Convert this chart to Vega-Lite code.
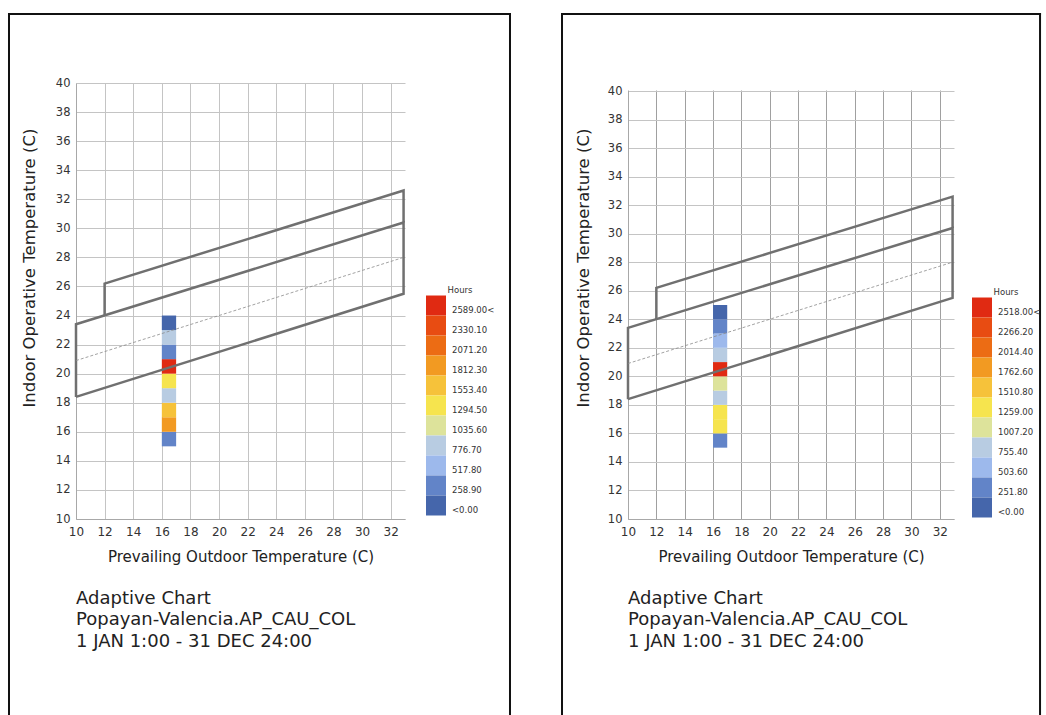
{
  "$schema": "https://vega.github.io/schema/vega-lite/v6.json",
  "padding": {"left": 7, "top": 12, "right": 0, "bottom": 0},
  "background": "white",
  "spacing": 48,
  "config": {
    "font": "DejaVu Sans",
    "view": {"stroke": null},
    "axis": {
      "domainColor": "#a8a8a8",
      "gridColor": "#c4c4c4",
      "ticks": false,
      "labelFontSize": 11.5,
      "labelColor": "#333333",
      "labelPadding": 6,
      "labelOverlap": false,
      "labelFlush": false,
      "titleFontSize": 15,
      "titleFontWeight": "normal",
      "titleColor": "#222222"
    }
  },
  "resolve": {
    "scale": {"x": "independent", "y": "independent", "color": "independent"},
    "legend": {"color": "independent"}
  },
  "datasets": {
    "cellsL": [
      {"out_lo": 16, "out_hi": 17, "in_lo": 15, "in_hi": 16, "bin": "258.90"},
      {"out_lo": 16, "out_hi": 17, "in_lo": 16, "in_hi": 17, "bin": "1812.30"},
      {"out_lo": 16, "out_hi": 17, "in_lo": 17, "in_hi": 18, "bin": "1553.40"},
      {"out_lo": 16, "out_hi": 17, "in_lo": 18, "in_hi": 19, "bin": "776.70"},
      {"out_lo": 16, "out_hi": 17, "in_lo": 19, "in_hi": 20, "bin": "1294.50"},
      {"out_lo": 16, "out_hi": 17, "in_lo": 20, "in_hi": 21, "bin": "2589.00<"},
      {"out_lo": 16, "out_hi": 17, "in_lo": 21, "in_hi": 22, "bin": "258.90"},
      {"out_lo": 16, "out_hi": 17, "in_lo": 22, "in_hi": 23, "bin": "776.70"},
      {"out_lo": 16, "out_hi": 17, "in_lo": 23, "in_hi": 24, "bin": "<0.00"}
    ],
    "cellsR": [
      {"out_lo": 16, "out_hi": 17, "in_lo": 15, "in_hi": 16, "bin": "251.80"},
      {"out_lo": 16, "out_hi": 17, "in_lo": 16, "in_hi": 17, "bin": "1259.00"},
      {"out_lo": 16, "out_hi": 17, "in_lo": 17, "in_hi": 18, "bin": "1259.00"},
      {"out_lo": 16, "out_hi": 17, "in_lo": 18, "in_hi": 19, "bin": "755.40"},
      {"out_lo": 16, "out_hi": 17, "in_lo": 19, "in_hi": 20, "bin": "1007.20"},
      {"out_lo": 16, "out_hi": 17, "in_lo": 20, "in_hi": 21, "bin": "2518.00<"},
      {"out_lo": 16, "out_hi": 17, "in_lo": 21, "in_hi": 22, "bin": "755.40"},
      {"out_lo": 16, "out_hi": 17, "in_lo": 22, "in_hi": 23, "bin": "503.60"},
      {"out_lo": 16, "out_hi": 17, "in_lo": 23, "in_hi": 24, "bin": "251.80"},
      {"out_lo": 16, "out_hi": 17, "in_lo": 24, "in_hi": 25, "bin": "<0.00"}
    ],
    "zones": [
      {"zone": "A", "seq": 1, "t_out": 10, "t_in": 18.4},
      {"zone": "A", "seq": 2, "t_out": 32.9, "t_in": 25.5},
      {"zone": "A", "seq": 3, "t_out": 32.9, "t_in": 30.4},
      {"zone": "A", "seq": 4, "t_out": 10, "t_in": 23.4},
      {"zone": "A", "seq": 5, "t_out": 10, "t_in": 18.4},
      {"zone": "B", "seq": 1, "t_out": 12, "t_in": 24.0},
      {"zone": "B", "seq": 2, "t_out": 12, "t_in": 26.2},
      {"zone": "B", "seq": 3, "t_out": 32.9, "t_in": 32.6},
      {"zone": "B", "seq": 4, "t_out": 32.9, "t_in": 30.4}
    ],
    "neutral": [
      {"t_out": 10, "t_in": 20.9},
      {"t_out": 32.9, "t_in": 28.0}
    ]
  },
  "hconcat": [
    {
      "width": 329,
      "height": 436,
      "layer": [
        {
          "data": {"name": "cellsL"},
          "mark": {"type": "rect"},
          "encoding": {
            "x": {"field": "out_lo", "type": "quantitative", "title": "Prevailing Outdoor Temperature (C)",
              "scale": {"domain": [10, 33], "nice": false, "zero": false},
              "axis": {"values": [10, 12, 14, 16, 18, 20, 22, 24, 26, 28, 30, 32], "titlePadding": 12, "labelPadding": 7, "labelFontSize": 12}},
            "x2": {"field": "out_hi"},
            "y": {"field": "in_lo", "type": "quantitative", "title": "Indoor Operative Temperature (C)",
              "scale": {"domain": [10, 40], "nice": false, "zero": false},
              "axis": {"values": [10, 12, 14, 16, 18, 20, 22, 24, 26, 28, 30, 32, 34, 36, 38, 40], "titleX": -47, "titleY": 324, "titleAlign": "left", "titleBaseline": "middle", "titleAngle": 270, "titleFontSize": 16.5}},
            "y2": {"field": "in_hi"},
            "color": {"field": "bin", "type": "nominal",
              "scale": {
                "domain": ["2589.00<", "2330.10", "2071.20", "1812.30", "1553.40", "1294.50", "1035.60", "776.70", "517.80", "258.90", "<0.00"],
                "range": ["#e02a12", "#e84c12", "#ec6c14", "#f29a22", "#f6c23a", "#f6e44e", "#dde39b", "#b8cce2", "#9db9ec", "#6284c8", "#4566ab"]
              },
              "legend": {"title": "Hours", "orient": "none", "legendX": 350, "legendY": 203, "symbolType": "square", "symbolSize": 400, "symbolStrokeWidth": 0, "rowPadding": 0, "labelFontSize": 8.5, "labelOffset": 6, "labelBaseline": "top", "labelColor": "#333333", "titleFontSize": 8.5, "titleFontWeight": "normal", "titleColor": "#333333", "titlePadding": 1, "titleAnchor": "middle", "padding": 0}
            }
          }
        },
        {
          "data": {"name": "zones"},
          "mark": {"type": "line", "color": "#707070", "strokeWidth": 2.5},
          "encoding": {
            "x": {"field": "t_out", "type": "quantitative", "title": "Prevailing Outdoor Temperature (C)",
              "axis": {"values": [10, 12, 14, 16, 18, 20, 22, 24, 26, 28, 30, 32], "titlePadding": 12, "labelPadding": 7, "labelFontSize": 12}},
            "y": {"field": "t_in", "type": "quantitative", "title": "Indoor Operative Temperature (C)",
              "axis": {"values": [10, 12, 14, 16, 18, 20, 22, 24, 26, 28, 30, 32, 34, 36, 38, 40], "titleX": -47, "titleY": 324, "titleAlign": "left", "titleBaseline": "middle", "titleAngle": 270, "titleFontSize": 16.5}},
            "detail": {"field": "zone"},
            "order": {"field": "seq", "type": "quantitative"}
          }
        },
        {
          "data": {"name": "neutral"},
          "mark": {"type": "line", "color": "#8a8a8a", "strokeWidth": 0.8, "strokeDash": [3, 2]},
          "encoding": {
            "x": {"field": "t_out", "type": "quantitative", "title": "Prevailing Outdoor Temperature (C)",
              "axis": {"values": [10, 12, 14, 16, 18, 20, 22, 24, 26, 28, 30, 32], "titlePadding": 12, "labelPadding": 7, "labelFontSize": 12}},
            "y": {"field": "t_in", "type": "quantitative", "title": "Indoor Operative Temperature (C)",
              "axis": {"values": [10, 12, 14, 16, 18, 20, 22, 24, 26, 28, 30, 32, 34, 36, 38, 40], "titleX": -47, "titleY": 324, "titleAlign": "left", "titleBaseline": "middle", "titleAngle": 270, "titleFontSize": 16.5}}
          }
        },
        {
          "data": {"values": [{}]},
          "mark": {"type": "rule", "color": "#111111", "strokeWidth": 2, "strokeCap": "square"},
          "encoding": {
            "x": {"datum": 5.316, "type": "quantitative", "title": "Prevailing Outdoor Temperature (C)",
              "axis": {"values": [10, 12, 14, 16, 18, 20, 22, 24, 26, 28, 30, 32], "titlePadding": 12, "labelPadding": 7, "labelFontSize": 12}},
            "y": {"datum": -3.5, "type": "quantitative", "title": "Indoor Operative Temperature (C)",
              "axis": {"values": [10, 12, 14, 16, 18, 20, 22, 24, 26, 28, 30, 32, 34, 36, 38, 40], "titleX": -47, "titleY": 324, "titleAlign": "left", "titleBaseline": "middle", "titleAngle": 270, "titleFontSize": 16.5}},
            "y2": {"datum": 44.748}
          }
        },
        {
          "data": {"values": [{}]},
          "mark": {"type": "rule", "color": "#111111", "strokeWidth": 2, "strokeCap": "square"},
          "encoding": {
            "x": {"datum": 40.34, "type": "quantitative", "title": "Prevailing Outdoor Temperature (C)",
              "axis": {"values": [10, 12, 14, 16, 18, 20, 22, 24, 26, 28, 30, 32], "titlePadding": 12, "labelPadding": 7, "labelFontSize": 12}},
            "y": {"datum": -3.5, "type": "quantitative", "title": "Indoor Operative Temperature (C)",
              "axis": {"values": [10, 12, 14, 16, 18, 20, 22, 24, 26, 28, 30, 32, 34, 36, 38, 40], "titleX": -47, "titleY": 324, "titleAlign": "left", "titleBaseline": "middle", "titleAngle": 270, "titleFontSize": 16.5}},
            "y2": {"datum": 44.748}
          }
        },
        {
          "data": {"values": [{}]},
          "mark": {"type": "rule", "color": "#111111", "strokeWidth": 2, "strokeCap": "square"},
          "encoding": {
            "x": {"datum": 5.316, "type": "quantitative", "title": "Prevailing Outdoor Temperature (C)",
              "axis": {"values": [10, 12, 14, 16, 18, 20, 22, 24, 26, 28, 30, 32], "titlePadding": 12, "labelPadding": 7, "labelFontSize": 12}},
            "x2": {"datum": 40.34},
            "y": {"datum": 44.748, "type": "quantitative", "title": "Indoor Operative Temperature (C)",
              "axis": {"values": [10, 12, 14, 16, 18, 20, 22, 24, 26, 28, 30, 32, 34, 36, 38, 40], "titleX": -47, "titleY": 324, "titleAlign": "left", "titleBaseline": "middle", "titleAngle": 270, "titleFontSize": 16.5}}
          }
        },
        {
          "data": {"values": [{}]},
          "mark": {"type": "text", "text": ["Adaptive Chart", "Popayan-Valencia.AP_CAU_COL", "1 JAN 1:00 - 31 DEC 24:00"], "align": "left", "baseline": "top", "fontSize": 18, "lineHeight": 21.7, "color": "#222222"},
          "encoding": {
            "x": {"datum": 10, "type": "quantitative", "title": "Prevailing Outdoor Temperature (C)",
              "axis": {"values": [10, 12, 14, 16, 18, 20, 22, 24, 26, 28, 30, 32], "titlePadding": 12, "labelPadding": 7, "labelFontSize": 12}},
            "y": {"datum": 5.128, "type": "quantitative", "title": "Indoor Operative Temperature (C)",
              "axis": {"values": [10, 12, 14, 16, 18, 20, 22, 24, 26, 28, 30, 32, 34, 36, 38, 40], "titleX": -47, "titleY": 324, "titleAlign": "left", "titleBaseline": "middle", "titleAngle": 270, "titleFontSize": 16.5}}
          }
        }
      ]
    },
    {
      "width": 326,
      "height": 436,
      "layer": [
        {
          "data": {"name": "cellsR"},
          "mark": {"type": "rect"},
          "encoding": {
            "x": {"field": "out_lo", "type": "quantitative", "title": "Prevailing Outdoor Temperature (C)",
              "scale": {"domain": [10, 33], "nice": false, "zero": false},
              "axis": {"values": [10, 12, 14, 16, 18, 20, 22, 24, 26, 28, 30, 32], "titlePadding": 12, "labelPadding": 7, "labelFontSize": 12, "gridColor": "#a0a0a0"}},
            "x2": {"field": "out_hi"},
            "y": {"field": "in_lo", "type": "quantitative", "title": "Indoor Operative Temperature (C)",
              "scale": {"domain": [10, 40.561], "nice": false, "zero": false},
              "axis": {"values": [10, 12, 14, 16, 18, 20, 22, 24, 26, 28, 30, 32, 34, 36, 38, 40], "titleX": -45, "titleY": 324, "titleAlign": "left", "titleBaseline": "middle", "titleAngle": 270, "titleFontSize": 16.5}},
            "y2": {"field": "in_hi"},
            "color": {"field": "bin", "type": "nominal",
              "scale": {
                "domain": ["2518.00<", "2266.20", "2014.40", "1762.60", "1510.80", "1259.00", "1007.20", "755.40", "503.60", "251.80", "<0.00"],
                "range": ["#e02a12", "#e84c12", "#ec6c14", "#f29a22", "#f6c23a", "#f6e44e", "#dde39b", "#b8cce2", "#9db9ec", "#6284c8", "#4566ab"]
              },
              "legend": {"title": "Hours", "orient": "none", "legendX": 344, "legendY": 205, "symbolType": "square", "symbolSize": 400, "symbolStrokeWidth": 0, "rowPadding": 0, "labelFontSize": 8.5, "labelOffset": 6, "labelBaseline": "top", "labelColor": "#333333", "titleFontSize": 8.5, "titleFontWeight": "normal", "titleColor": "#333333", "titlePadding": 1, "titleAnchor": "middle", "padding": 0}
            }
          }
        },
        {
          "data": {"name": "zones"},
          "mark": {"type": "line", "color": "#707070", "strokeWidth": 2.5},
          "encoding": {
            "x": {"field": "t_out", "type": "quantitative", "title": "Prevailing Outdoor Temperature (C)",
              "axis": {"values": [10, 12, 14, 16, 18, 20, 22, 24, 26, 28, 30, 32], "titlePadding": 12, "labelPadding": 7, "labelFontSize": 12, "gridColor": "#a0a0a0"}},
            "y": {"field": "t_in", "type": "quantitative", "title": "Indoor Operative Temperature (C)",
              "axis": {"values": [10, 12, 14, 16, 18, 20, 22, 24, 26, 28, 30, 32, 34, 36, 38, 40], "titleX": -45, "titleY": 324, "titleAlign": "left", "titleBaseline": "middle", "titleAngle": 270, "titleFontSize": 16.5}},
            "detail": {"field": "zone"},
            "order": {"field": "seq", "type": "quantitative"}
          }
        },
        {
          "data": {"name": "neutral"},
          "mark": {"type": "line", "color": "#8a8a8a", "strokeWidth": 0.8, "strokeDash": [3, 2]},
          "encoding": {
            "x": {"field": "t_out", "type": "quantitative", "title": "Prevailing Outdoor Temperature (C)",
              "axis": {"values": [10, 12, 14, 16, 18, 20, 22, 24, 26, 28, 30, 32], "titlePadding": 12, "labelPadding": 7, "labelFontSize": 12, "gridColor": "#a0a0a0"}},
            "y": {"field": "t_in", "type": "quantitative", "title": "Indoor Operative Temperature (C)",
              "axis": {"values": [10, 12, 14, 16, 18, 20, 22, 24, 26, 28, 30, 32, 34, 36, 38, 40], "titleX": -45, "titleY": 324, "titleAlign": "left", "titleBaseline": "middle", "titleAngle": 270, "titleFontSize": 16.5}}
          }
        },
        {
          "data": {"values": [{}]},
          "mark": {"type": "rect", "color": "white", "opacity": 1},
          "encoding": {
            "x": {"datum": 9.92, "type": "quantitative", "title": "Prevailing Outdoor Temperature (C)",
              "axis": {"values": [10, 12, 14, 16, 18, 20, 22, 24, 26, 28, 30, 32], "titlePadding": 12, "labelPadding": 7, "labelFontSize": 12, "gridColor": "#a0a0a0"}},
            "x2": {"datum": 33.1},
            "y": {"datum": 40.04, "type": "quantitative", "title": "Indoor Operative Temperature (C)",
              "axis": {"values": [10, 12, 14, 16, 18, 20, 22, 24, 26, 28, 30, 32, 34, 36, 38, 40], "titleX": -45, "titleY": 324, "titleAlign": "left", "titleBaseline": "middle", "titleAngle": 270, "titleFontSize": 16.5}},
            "y2": {"datum": 40.65}
          }
        },
        {
          "data": {"values": [{}]},
          "mark": {"type": "rule", "color": "#111111", "strokeWidth": 2, "strokeCap": "square"},
          "encoding": {
            "x": {"datum": 5.344, "type": "quantitative", "title": "Prevailing Outdoor Temperature (C)",
              "axis": {"values": [10, 12, 14, 16, 18, 20, 22, 24, 26, 28, 30, 32], "titlePadding": 12, "labelPadding": 7, "labelFontSize": 12, "gridColor": "#a0a0a0"}},
            "y": {"datum": -3.75, "type": "quantitative", "title": "Indoor Operative Temperature (C)",
              "axis": {"values": [10, 12, 14, 16, 18, 20, 22, 24, 26, 28, 30, 32, 34, 36, 38, 40], "titleX": -45, "titleY": 324, "titleAlign": "left", "titleBaseline": "middle", "titleAngle": 270, "titleFontSize": 16.5}},
            "y2": {"datum": 45.40}
          }
        },
        {
          "data": {"values": [{}]},
          "mark": {"type": "rule", "color": "#111111", "strokeWidth": 2, "strokeCap": "square"},
          "encoding": {
            "x": {"datum": 39.07, "type": "quantitative", "title": "Prevailing Outdoor Temperature (C)",
              "axis": {"values": [10, 12, 14, 16, 18, 20, 22, 24, 26, 28, 30, 32], "titlePadding": 12, "labelPadding": 7, "labelFontSize": 12, "gridColor": "#a0a0a0"}},
            "y": {"datum": -3.75, "type": "quantitative", "title": "Indoor Operative Temperature (C)",
              "axis": {"values": [10, 12, 14, 16, 18, 20, 22, 24, 26, 28, 30, 32, 34, 36, 38, 40], "titleX": -45, "titleY": 324, "titleAlign": "left", "titleBaseline": "middle", "titleAngle": 270, "titleFontSize": 16.5}},
            "y2": {"datum": 45.40}
          }
        },
        {
          "data": {"values": [{}]},
          "mark": {"type": "rule", "color": "#111111", "strokeWidth": 2, "strokeCap": "square"},
          "encoding": {
            "x": {"datum": 5.344, "type": "quantitative", "title": "Prevailing Outdoor Temperature (C)",
              "axis": {"values": [10, 12, 14, 16, 18, 20, 22, 24, 26, 28, 30, 32], "titlePadding": 12, "labelPadding": 7, "labelFontSize": 12, "gridColor": "#a0a0a0"}},
            "x2": {"datum": 39.07},
            "y": {"datum": 45.40, "type": "quantitative", "title": "Indoor Operative Temperature (C)",
              "axis": {"values": [10, 12, 14, 16, 18, 20, 22, 24, 26, 28, 30, 32, 34, 36, 38, 40], "titleX": -45, "titleY": 324, "titleAlign": "left", "titleBaseline": "middle", "titleAngle": 270, "titleFontSize": 16.5}}
          }
        },
        {
          "data": {"values": [{}]},
          "mark": {"type": "text", "text": ["Adaptive Chart", "Popayan-Valencia.AP_CAU_COL", "1 JAN 1:00 - 31 DEC 24:00"], "align": "left", "baseline": "top", "fontSize": 18, "lineHeight": 21.7, "color": "#222222"},
          "encoding": {
            "x": {"datum": 10, "type": "quantitative", "title": "Prevailing Outdoor Temperature (C)",
              "axis": {"values": [10, 12, 14, 16, 18, 20, 22, 24, 26, 28, 30, 32], "titlePadding": 12, "labelPadding": 7, "labelFontSize": 12, "gridColor": "#a0a0a0"}},
            "y": {"datum": 5.037, "type": "quantitative", "title": "Indoor Operative Temperature (C)",
              "axis": {"values": [10, 12, 14, 16, 18, 20, 22, 24, 26, 28, 30, 32, 34, 36, 38, 40], "titleX": -45, "titleY": 324, "titleAlign": "left", "titleBaseline": "middle", "titleAngle": 270, "titleFontSize": 16.5}}
          }
        }
      ]
    }
  ]
}
